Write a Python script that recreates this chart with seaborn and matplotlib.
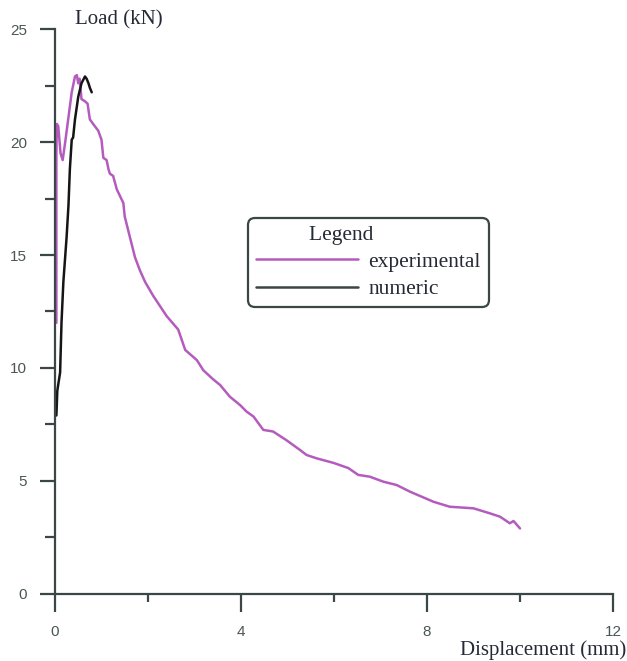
import matplotlib
matplotlib.use("Agg")
import matplotlib.pyplot as plt
from matplotlib.ticker import MultipleLocator
import seaborn as sns
import pandas as pd

# Load–displacement response: test record and simulation
exp_disp = [0.03, 0.03, 0.03, 0.04, 0.07, 0.12, 0.165, 0.22, 0.29, 0.36, 0.43, 0.47,
            0.50, 0.53, 0.57, 0.645, 0.70, 0.75, 0.82, 0.93, 1.00, 1.04, 1.11, 1.15,
            1.18, 1.25, 1.33, 1.47, 1.50, 1.61, 1.72, 1.83, 1.94, 2.11, 2.40, 2.65,
            2.80, 3.05, 3.19, 3.40, 3.55, 3.76, 3.98, 4.12, 4.27, 4.48, 4.69, 4.98,
            5.27, 5.41, 5.63, 5.99, 6.31, 6.52, 6.77, 7.06, 7.35, 7.63, 8.14, 8.49,
            9.00, 9.35, 9.57, 9.78, 9.86, 10.00]
exp_load = [12.0, 16.0, 19.5, 20.8, 20.7, 19.5, 19.2, 20.0, 21.1, 22.2, 22.9, 22.96,
            22.6, 22.8, 21.9, 21.8, 21.7, 21.0, 20.8, 20.5, 20.1, 19.3, 19.2, 18.8,
            18.6, 18.5, 17.9, 17.3, 16.7, 15.8, 14.9, 14.3, 13.8, 13.2, 12.3, 11.7,
            10.8, 10.35, 9.9, 9.5, 9.25, 8.73, 8.36, 8.07, 7.85, 7.26, 7.19, 6.8,
            6.37, 6.15, 6.0, 5.8, 5.57, 5.27, 5.19, 4.97, 4.82, 4.53, 4.08, 3.86,
            3.79, 3.57, 3.42, 3.13, 3.23, 2.9]

num_disp = [0.03, 0.05, 0.11, 0.14, 0.18, 0.25, 0.29, 0.32, 0.36, 0.39, 0.43,
            0.50, 0.57, 0.645, 0.68, 0.72, 0.75, 0.79]
num_load = [7.9, 9.0, 9.8, 12.0, 13.8, 15.8, 17.2, 18.8, 20.1, 20.2, 21.0,
            22.0, 22.6, 22.9, 22.8, 22.6, 22.4, 22.2]

series_names = ["experimental", "numeric"]
series_colors = ["#b45cbd", "#151515"]

df = pd.concat([
    pd.DataFrame({"disp": exp_disp, "load": exp_load, "series": series_names[0]}),
    pd.DataFrame({"disp": num_disp, "load": num_load, "series": series_names[1]}),
], ignore_index=True)

sns.set_theme(style="white")
plt.rcParams["font.family"] = ["Liberation Sans", "DejaVu Sans"]

axis_col = "#3b4747"
fig = plt.figure(figsize=(6.27, 6.61), dpi=100)
ax = fig.add_axes([0.0877, 0.1014, 0.89, 0.8547])

sns.lineplot(data=df, x="disp", y="load", hue="series", hue_order=series_names,
             palette=series_colors, sort=False, estimator=None, linewidth=1.8,
             ax=ax)

ax.set_xlim(0, 12)
ax.set_ylim(0, 25)
ax.xaxis.set_major_locator(MultipleLocator(4))
ax.xaxis.set_minor_locator(MultipleLocator(2))
ax.yaxis.set_major_locator(MultipleLocator(5))
ax.yaxis.set_minor_locator(MultipleLocator(2.5))

for side in ["top", "right"]:
    ax.spines[side].set_visible(False)
for side in ["left", "bottom"]:
    ax.spines[side].set_color(axis_col)
    ax.spines[side].set_linewidth(1.6)

ax.tick_params(axis="y", which="major", direction="out", length=11, width=1.6,
               color=axis_col, pad=9, labelsize=11, labelcolor="#4a5656", left=True)
ax.tick_params(axis="y", which="minor", direction="out", length=7, width=1.6,
               color=axis_col, left=True)
ax.tick_params(axis="x", which="major", direction="out", length=13, width=1.6,
               color=axis_col, pad=9, labelsize=11, labelcolor="#4a5656", bottom=True)
ax.tick_params(axis="x", which="minor", direction="out", length=6, width=1.6,
               color=axis_col, bottom=True)

ax.set_xlabel("")
ax.set_ylabel("")
serif = ["Liberation Serif", "DejaVu Serif"]
fig.text(75 / 627, 1 - 20 / 661, "Load (kN)", family=serif, fontsize=15,
         color="#262a36", ha="left", va="center")
fig.text(626 / 627, 1 - 650 / 661, "Displacement (mm)", family=serif, fontsize=15,
         color="#262a36", ha="right", va="center")

handles, labels = ax.get_legend_handles_labels()
handles[1].set_color("#3a4545")
leg = ax.legend(handles, labels, title="Legend          ", loc="upper left",
                bbox_to_anchor=(0.346, 0.665), borderaxespad=0,
                prop={"family": serif, "size": 15.5},
                handlelength=4.75, handletextpad=0.5, labelspacing=0.33,
                borderpad=0.35, frameon=True, fancybox=True)
leg.get_title().set_fontfamily(serif)
leg.get_title().set_fontsize(15.5)
leg.get_title().set_color("#262a36")
for t in leg.get_texts():
    t.set_color("#262a36")
frame = leg.get_frame()
frame.set_edgecolor(axis_col)
frame.set_linewidth(1.6)
frame.set_facecolor("white")
frame.set_alpha(1)
frame.set_boxstyle("round", pad=0, rounding_size=0.3)

fig.savefig("out.png", dpi=100)
